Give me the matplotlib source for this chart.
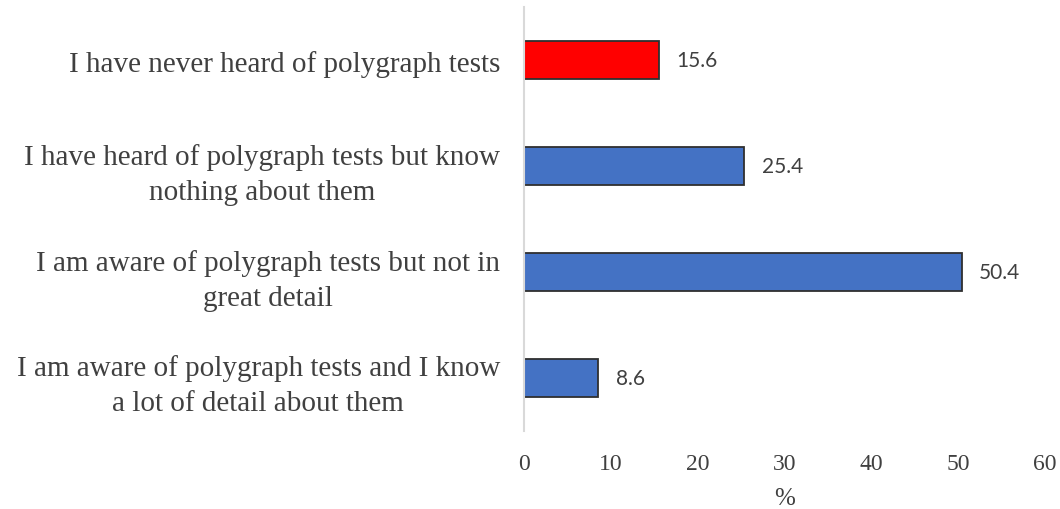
import matplotlib.pyplot as plt

# survey answers, top to bottom as in the chart
categories = [
    "I have never heard of polygraph tests",
    "I have heard of polygraph tests but know\nnothing about them",
    "I am aware of polygraph tests but not in\ngreat detail",
    "I am aware of polygraph tests and I know\na lot of detail about them",
]
values = [15.6, 25.4, 50.4, 8.6]
bar_colors = ["#FF0000", "#4472C4", "#4472C4", "#4472C4"]
x_ticks = [0, 10, 20, 30, 40, 50, 60]

fig = plt.figure(figsize=(10.6, 5.1), dpi=100)
ax = fig.add_axes([0.494, 0.153, 0.492, 0.831])

pos = list(range(len(categories)))
bars = ax.barh(pos, values, height=0.357, color=bar_colors,
               edgecolor="#2f2f2f", linewidth=1.3, zorder=2)
ax.set_ylim(len(categories) - 0.5, -0.5)
ax.set_xlim(0, 60)

for b, v in zip(bars, values):
    ax.text(v + 2.0, b.get_y() + b.get_height() / 2, f"{v:.1f}",
            va="center", ha="left", fontsize=15, color="#404040",
            family="Lato")

ax.set_yticks(pos)
ax.set_yticklabels(categories, multialignment="center", fontsize=21,
                   family="Liberation Serif", color="#404040",
                   linespacing=1.45)
ax.set_xticks(x_ticks)
ax.set_xticklabels([str(t) for t in x_ticks], fontsize=17,
                   family="Liberation Serif", color="#404040")
ax.tick_params(axis="both", length=0)
ax.tick_params(axis="y", pad=17)
ax.tick_params(axis="x", pad=16)
ax.set_xlabel("%", fontsize=18, family="Liberation Serif", color="#404040",
              labelpad=9)

for s in ["top", "right", "bottom"]:
    ax.spines[s].set_visible(False)
ax.spines["left"].set_color("#d9d9d9")
ax.spines["left"].set_linewidth(1.5)

fig.savefig("out.png", dpi=100)
